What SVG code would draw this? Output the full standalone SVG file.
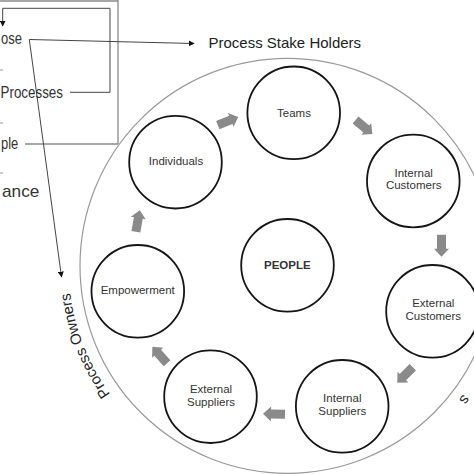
<svg xmlns="http://www.w3.org/2000/svg" width="474" height="474" viewBox="0 0 474 474">
<style>
.node{fill:#fff;stroke:#151515;stroke-width:1.8}
.lbl{font-family:"Liberation Sans",Arial,sans-serif;font-size:11.5px;fill:#333;text-anchor:middle}
.big{font-family:"Liberation Sans",Arial,sans-serif;font-size:15px;fill:#222}
.side{font-family:"Liberation Sans",Arial,sans-serif;font-size:17px;fill:#333}
.conn{fill:none;stroke:#444;stroke-width:1}
.box{fill:none;stroke:#8a8a8a;stroke-width:1.3}
.flow{fill:#8a8a8a}
</style>
<defs>
<marker id="ah" viewBox="0 0 10 10" refX="9" refY="5" markerWidth="6" markerHeight="6" orient="auto" markerUnits="userSpaceOnUse">
<path d="M0,0 L10,5 L0,10 z" fill="#111"/>
</marker>
<polygon id="blk" points="-11,-4.5 3,-4.5 3,-7.5 11,0 3,7.5 3,4.5 -11,4.5"/>
<path id="arcL" d="M151.5,437.1 A219,219 0 0 1 70.8,233.5"/>
</defs>
<rect width="474" height="474" fill="#fff"/>

<circle cx="287.5" cy="265.8" r="207.5" fill="none" stroke="#9a9a9a" stroke-width="1.2"/>

<g id="connectors">
<line class="box" x1="0" y1="1" x2="118" y2="1"/>
<line class="box" x1="118" y1="0" x2="118" y2="144"/>
<line class="box" x1="25" y1="144" x2="118" y2="144"/>
<line x1="0" y1="70" x2="3" y2="70" stroke="#999" stroke-width="1"/>
<line x1="0" y1="123" x2="3" y2="123" stroke="#999" stroke-width="1"/>
<line x1="0" y1="173" x2="3" y2="173" stroke="#999" stroke-width="1"/>
<polyline class="conn" points="70,92.3 110,92.3 110,8.3 2.7,8.3 2.7,26" marker-end="url(#ah)"/>
<line class="conn" x1="29.3" y1="39.5" x2="194" y2="43.5" marker-end="url(#ah)"/>
<line class="conn" x1="29.3" y1="39.5" x2="61.5" y2="277" marker-end="url(#ah)"/>
<use href="#blk" class="flow" transform="translate(228,121) rotate(-22)"/>
<use href="#blk" class="flow" transform="translate(364,127) rotate(40)"/>
<use href="#blk" class="flow" transform="translate(441.5,245.7) rotate(90)"/>
<use href="#blk" class="flow" transform="translate(405,375) rotate(135)"/>
<use href="#blk" class="flow" transform="translate(274,414) rotate(181)"/>
<use href="#blk" class="flow" transform="translate(159.7,355) rotate(228)"/>
<use href="#blk" class="flow" transform="translate(137.8,221) rotate(-80)"/>
</g>

<g id="side-texts">
<text class="side" x="1" y="43.5" textLength="21" lengthAdjust="spacingAndGlyphs">ose</text>
<text class="side" x="0.5" y="98.3" textLength="62.5" lengthAdjust="spacingAndGlyphs">Processes</text>
<text class="side" x="1" y="149" textLength="17.3" lengthAdjust="spacingAndGlyphs">ple</text>
<text class="side" x="2" y="197.3" textLength="37.3" lengthAdjust="spacingAndGlyphs">ance</text>
</g>

<g id="stakeholders"><text class="big" x="208.5" y="48.3">Process Stake Holders</text></g>
<g id="owners"><text class="big"><textPath href="#arcL" startOffset="50%" text-anchor="middle">Process Owners</textPath></text></g>
<g id="right-fragment"><text class="big" font-size="13" transform="translate(461,397) rotate(127)" text-anchor="middle">s</text></g>

<g id="teams"><circle class="node" cx="293.7" cy="112.8" r="46.3"/><text class="lbl" x="294" y="116.7">Teams</text></g>
<g id="individuals"><circle class="node" cx="175.5" cy="162.2" r="46.3"/><text class="lbl" x="176" y="165">Individuals</text></g>
<g id="internal-customers"><circle class="node" cx="413.3" cy="181" r="46.3"/><text class="lbl" x="413.7" y="176.7">Internal</text><text class="lbl" x="413.7" y="189.3">Customers</text></g>
<g id="people"><circle class="node" cx="287.5" cy="265.3" r="46.3"/><text class="lbl" x="287.3" y="269.3" font-weight="bold" fill="#111">PEOPLE</text></g>
<g id="empowerment"><circle class="node" cx="137.8" cy="291.3" r="46.3"/><text class="lbl" x="137.7" y="294.3">Empowerment</text></g>
<g id="external-customers"><circle class="node" cx="432.5" cy="311.3" r="46.3"/><text class="lbl" x="433.3" y="307.3">External</text><text class="lbl" x="433.3" y="320">Customers</text></g>
<g id="external-suppliers"><circle class="node" cx="210.5" cy="396.7" r="46.3"/><text class="lbl" x="211" y="393.3">External</text><text class="lbl" x="211" y="406">Suppliers</text></g>
<g id="internal-suppliers"><circle class="node" cx="342.2" cy="406.3" r="46.3"/><text class="lbl" x="342.3" y="402.3">Internal</text><text class="lbl" x="342.3" y="415">Suppliers</text></g>
</svg>
